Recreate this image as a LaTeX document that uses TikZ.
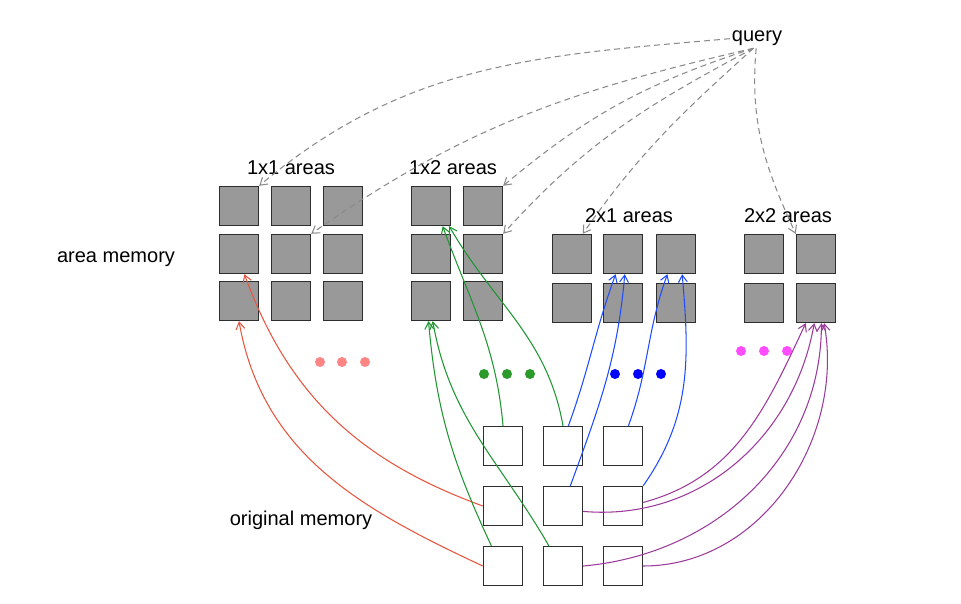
\documentclass[tikz,border=0pt]{standalone}
\usepackage{fontspec}
\setmainfont{Liberation Sans}
\usetikzlibrary{arrows.meta}
\definecolor{cellfill}{HTML}{999999}
\definecolor{celledge}{HTML}{2E2E2E}
\definecolor{qgray}{HTML}{8A8A8A}
\definecolor{redline}{HTML}{E8553F}
\definecolor{greenline}{HTML}{1E9632}
\definecolor{blueline}{HTML}{1F4BFF}
\definecolor{purpleline}{HTML}{9B3A9B}
\definecolor{pinkdot}{HTML}{FF8585}
\definecolor{greendot}{HTML}{2A9A2A}
\definecolor{bluedot}{HTML}{0000FF}
\definecolor{magentadot}{HTML}{FF4DFF}
\tikzset{cell/.style = {draw=celledge, fill=cellfill, line width=0.8pt, minimum size=0.78cm, inner sep=0pt}}
\tikzset{orig/.style = {draw=celledge, fill=white, line width=0.8pt, minimum size=0.78cm, inner sep=0pt}}
\tikzset{areatext/.style = {anchor=base, inner sep=1pt}}
\tikzset{qarrow/.style = {->, qgray, line width=0.6pt, dash pattern=on 3.4pt off 2.3pt}}
\tikzset{link/.style = {->, line width=0.6pt}}
\tikzset{blob/.style = {radius=5}}

\begin{document}
\begin{tikzpicture}[x=0.02cm, y=-0.02cm, >={Straight Barb[length=4pt,width=5pt]}, font=\fontsize{11.4}{13.7}\selectfont]
  \useasboundingbox (0,0) rectangle (961,604);

  % labels (placed on their baselines)
  \node [areatext] (query) at (757,42) {query};
  \node [areatext] (t11) at (291,175) {1x1 areas};
  \node [areatext] (t12) at (453,175) {1x2 areas};
  \node [areatext] (t21) at (629,223) {2x1 areas};
  \node [areatext] (t22) at (788,223) {2x2 areas};
  \node [areatext] (amem) at (116,263) {area memory};
  \node [areatext] (omem) at (301,526) {original memory};

  % area memory
  \foreach \r/\y in {1/206,2/254,3/301}
    \foreach \c/\x in {1/239,2/291,3/343}
      \node [cell] (a\r\c) at (\x,\y) {};
  \foreach \r/\y in {1/206,2/254,3/301}
    \foreach \c/\x in {1/431,2/483}
      \node [cell] (b\r\c) at (\x,\y) {};
  \foreach \r/\y in {1/254,2/303}
    \foreach \c/\x in {1/572,2/623,3/676}
      \node [cell] (c\r\c) at (\x,\y) {};
  \foreach \r/\y in {1/254,2/303}
    \foreach \c/\x in {1/764,2/816}
      \node [cell] (d\r\c) at (\x,\y) {};

  % original memory
  \foreach \r/\y in {1/446,2/506,3/566}
    \foreach \c/\x in {1/503,2/563,3/623}
      \node [orig] (m\r\c) at (\x,\y) {};

  % more areas
  \foreach \x in {320,342,365} \fill [pinkdot] (\x,362) circle [blob];
  \foreach \x in {484,507,530} \fill [greendot] (\x,374) circle [blob];
  \foreach \x in {615,638,661} \fill [bluedot] (\x,374) circle [blob];
  \foreach \x in {741,764,787} \fill [magentadot] (\x,351) circle [blob];

  % query attends to areas
  \path[qarrow] (query.west) edge [out=185, in=40] (a11.north east);
  \path[qarrow] (query.250) edge [out=193, in=35] (a22.north east);
  \path[qarrow] (query.250) edge [out=198, in=40] (b12.north east);
  \path[qarrow] (query.250) edge [out=208, in=48] (b22.north east);
  \path[qarrow] (query.250) edge [out=222, in=55] (c11.62);
  \path[qarrow] (query.265) edge [out=-95, in=115] (d12.north west);

  % 1x1
  \path[link, redline] (m21.west) edge [out=160, in=-70] (a21.-75);
  \path[link, redline] (m31.west) edge [out=155, in=-80] (a31.south);
  % 1x2
  \path[link, greenline] (m11.north) edge [out=95, in=-70] (b11.-60);
  \path[link, greenline] (m12.north) edge [out=100, in=-60] (b11.-48);
  \path[link, greenline] (m31.120) edge [out=115, in=-85] (b31.-97);
  \path[link, greenline] (m32.125) edge [out=120, in=-80] (b31.-85);
  % 2x1
  \path[link, blueline] (m12.75) edge [out=70, in=-110] (c12.-110);
  \path[link, blueline] (m22.70) edge [out=70, in=-95] (c12.-85);
  \path[link, blueline] (m13.75) edge [out=70, in=-110] (c13.-113);
  \path[link, blueline] (m23.north east) edge [out=55, in=-85] (c13.-73);
  % 2x2
  \path[link, purpleline] (m23.10) edge [out=15, in=-115] (d22.-117);
  \path[link, purpleline] (m22.-15) edge [out=-5, in=-100] (d22.-95);
  \path[link, purpleline] (m32.east) edge [out=5, in=-90] (d22.-75);
  \path[link, purpleline] (m33.east) edge [out=0, in=-80] (d22.-68);
\end{tikzpicture}
\end{document}
